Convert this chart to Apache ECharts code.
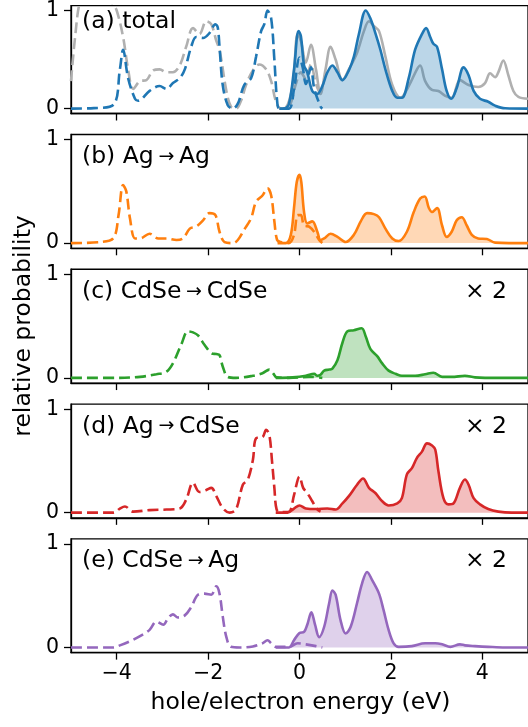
<!DOCTYPE html>
<html><head><meta charset="utf-8">
<script src="https://cdn.jsdelivr.net/npm/echarts@6/dist/echarts.min.js"></script>
<style>html,body{margin:0;padding:0;background:#fff}#c{width:528px;height:727px}</style>
</head><body><div id="c"></div>
<script>
// ---------------- data ----------------
const xTicks = [-4, -2, 0, 2, 4];
const yTicks = [0, 1];
const panelLabels = ['(a) total', '(b) Ag\u2009{a|\u2192}\u2009Ag', '(c) CdSe\u2009{a|\u2192}\u2009CdSe', '(d) Ag\u2009{a|\u2192}\u2009CdSe', '(e) CdSe\u2009{a|\u2192}\u2009Ag'];
const scaleLabels = ['', '', '\u00d7 2', '\u00d7 2', '\u00d7 2'];
const xName = 'hole/electron energy (eV)';
const yName = 'relative probability';

// (a) total – holes (dashed) and electrons (solid)
const totalHole = [[-5,0],[-4.5,0.005],[-4.07,0.04],[-3.93,0.40],[-3.86,0.60],[-3.75,0.31],[-3.6,0.10],[-3.53,0.08],[-3.28,0.18],[-3.06,0.23],[-2.91,0.20],[-2.77,0.26],[-2.62,0.31],[-2.51,0.40],[-2.37,0.63],[-2.26,0.73],[-2.11,0.72],[-1.97,0.77],[-1.84,0.86],[-1.79,0.83],[-1.75,0.63],[-1.68,0.24],[-1.57,0.035],[-1.46,0.0],[-1.35,0.05],[-1.21,0.24],[-1.06,0.31],[-0.95,0.53],[-0.84,0.79],[-0.77,0.86],[-0.70,1.0],[-0.62,0.92],[-0.55,0.50],[-0.49,0.08],[-0.44,0.0],[-0.23,0.0],[-0.12,0.2],[0.0,0.52],[0.07,0.42],[0.14,0.25],[0.25,0.42],[0.32,0.21],[0.46,0.02],[0.5,0.0]];
const totalElec = [[-0.44,0],[-0.33,0],[-0.23,0.05],[-0.12,0.40],[-0.02,0.79],[0.03,0.74],[0.10,0.44],[0.17,0.37],[0.28,0.18],[0.39,0.15],[0.50,0.23],[0.61,0.37],[0.72,0.44],[0.83,0.37],[0.94,0.29],[1.08,0.39],[1.19,0.53],[1.30,0.76],[1.45,1.0],[1.55,0.92],[1.66,0.77],[1.77,0.60],[1.88,0.40],[2.03,0.18],[2.14,0.11],[2.24,0.11],[2.39,0.31],[2.53,0.60],[2.68,0.76],[2.77,0.82],[2.86,0.73],[2.93,0.66],[3.01,0.63],[3.12,0.40],[3.22,0.18],[3.32,0.10],[3.44,0.21],[3.59,0.42],[3.70,0.34],[3.81,0.18],[3.95,0.10],[4.13,0.07],[4.28,0.03],[4.5,0.003],[5,0]];
// (a) reference (grey)
const refHole = [[-5,0.28],[-4.91,0.73],[-4.8,1.1],[-4.6,1.3],[-4.3,1.25],[-4.1,1.08],[-4.0,1.0],[-3.86,0.73],[-3.75,0.40],[-3.64,0.20],[-3.49,0.28],[-3.35,0.29],[-3.20,0.39],[-3.06,0.40],[-2.91,0.37],[-2.77,0.37],[-2.62,0.44],[-2.48,0.63],[-2.33,0.82],[-2.19,0.76],[-2.04,0.89],[-1.93,0.86],[-1.82,0.69],[-1.75,0.60],[-1.60,0.18],[-1.50,0.02],[-1.39,0.0],[-1.28,0.08],[-1.17,0.24],[-1.02,0.39],[-0.88,0.45],[-0.73,0.40],[-0.62,0.28],[-0.52,0.08],[-0.41,0.0],[-0.23,0.02],[-0.08,0.25],[0.03,0.37],[0.14,0.30],[0.25,0.45],[0.36,0.25],[0.5,0.1]];
const refElec = [[-0.44,0],[-0.30,0.01],[-0.15,0.24],[-0.04,0.76],[0.03,0.69],[0.14,0.47],[0.25,0.65],[0.36,0.40],[0.46,0.15],[0.57,0.40],[0.68,0.63],[0.79,0.50],[0.94,0.29],[1.08,0.40],[1.26,0.57],[1.41,0.79],[1.52,0.89],[1.63,0.84],[1.74,0.79],[1.88,0.53],[2.03,0.24],[2.21,0.11],[2.39,0.23],[2.57,0.40],[2.64,0.44],[2.75,0.28],[2.90,0.19],[3.04,0.18],[3.19,0.13],[3.33,0.11],[3.51,0.29],[3.70,0.24],[3.91,0.22],[4.06,0.26],[4.17,0.36],[4.28,0.32],[4.35,0.37],[4.46,0.49],[4.57,0.34],[4.68,0.18],[4.79,0.12],[5.0,0.10]];
// (b) Ag -> Ag
const agAgHole = [[-5,0],[-4.36,0.01],[-4.07,0.05],[-3.96,0.27],[-3.86,0.56],[-3.79,0.50],[-3.71,0.24],[-3.60,0.045],[-3.49,0.045],[-3.28,0.09],[-3.09,0.045],[-2.91,0.045],[-2.69,0.03],[-2.55,0.045],[-2.40,0.14],[-2.26,0.16],[-2.11,0.22],[-1.97,0.29],[-1.84,0.27],[-1.75,0.11],[-1.64,0.01],[-1.46,0],[-1.35,0.03],[-1.21,0.13],[-1.06,0.24],[-0.95,0.40],[-0.81,0.46],[-0.70,0.53],[-0.62,0.46],[-0.55,0.21],[-0.49,0.03],[-0.41,0.01],[-0.23,0],[-0.12,0.08],[-0.04,0.27],[0.03,0.27],[0.10,0.17],[0.21,0.16],[0.32,0.11],[0.43,0.03],[0.5,0]];
const agAgElec = [[-0.48,0],[-0.30,0],[-0.19,0.08],[-0.12,0.34],[-0.06,0.59],[0.0,0.66],[0.04,0.59],[0.10,0.30],[0.17,0.19],[0.28,0.21],[0.39,0.11],[0.46,0.03],[0.54,0.045],[0.68,0.09],[0.83,0.06],[1.01,0.01],[1.19,0.08],[1.34,0.21],[1.48,0.29],[1.63,0.28],[1.74,0.25],[1.88,0.14],[2.03,0.045],[2.17,0.02],[2.35,0.11],[2.50,0.30],[2.64,0.43],[2.74,0.45],[2.83,0.34],[2.90,0.30],[3.01,0.34],[3.12,0.17],[3.22,0.06],[3.33,0.11],[3.44,0.22],[3.55,0.25],[3.66,0.17],[3.77,0.08],[3.91,0.045],[4.10,0.04],[4.28,0.005],[5,0]];
// (c) CdSe -> CdSe (x2)
const cdseCdseHole = [[-5,0],[-4.0,0],[-3.49,0.01],[-3.13,0.035],[-2.91,0.06],[-2.77,0.14],[-2.59,0.32],[-2.44,0.45],[-2.33,0.44],[-2.22,0.41],[-2.08,0.32],[-1.93,0.24],[-1.82,0.23],[-1.75,0.22],[-1.68,0.11],[-1.57,0.01],[-1.39,0],[-1.02,0.02],[-0.81,0.045],[-0.66,0.08],[-0.57,0.04],[-0.50,0.005],[-0.23,0],[0.21,0.01],[0.5,0]];
const cdseCdseElec = [[-0.52,0],[-0.15,0.005],[0.14,0.02],[0.32,0.04],[0.39,0.02],[0.46,0.03],[0.54,0.07],[0.65,0.08],[0.72,0.09],[0.83,0.17],[0.94,0.34],[1.05,0.45],[1.19,0.46],[1.36,0.48],[1.45,0.40],[1.55,0.28],[1.70,0.21],[1.81,0.14],[1.95,0.07],[2.10,0.04],[2.24,0.02],[2.53,0.02],[2.75,0.035],[2.93,0.05],[3.12,0.01],[3.33,0.01],[3.62,0.02],[3.84,0.005],[4.35,0],[5,0]];
// (d) Ag -> CdSe (x2)
const agCdseHole = [[-5,0],[-4.07,0],[-3.93,0.04],[-3.82,0.06],[-3.64,0.01],[-3.28,0.025],[-2.91,0.03],[-2.62,0.04],[-2.48,0.125],[-2.33,0.29],[-2.19,0.20],[-2.04,0.22],[-1.93,0.24],[-1.82,0.16],[-1.68,0.045],[-1.53,0],[-1.39,0.03],[-1.24,0.27],[-1.13,0.32],[-1.02,0.51],[-0.95,0.72],[-0.81,0.73],[-0.73,0.80],[-0.66,0.75],[-0.60,0.49],[-0.55,0.24],[-0.50,0.03],[-0.41,0.005],[-0.23,0.01],[-0.12,0.17],[0.0,0.35],[0.08,0.24],[0.17,0.19],[0.28,0.11],[0.39,0.03],[0.46,0.01]];
const agCdseElec = [[-0.52,0],[-0.26,0],[-0.12,0.04],[0.0,0.07],[0.14,0.04],[0.36,0.035],[0.61,0.04],[0.79,0.03],[0.94,0.09],[1.08,0.16],[1.26,0.27],[1.39,0.33],[1.52,0.24],[1.66,0.19],[1.81,0.11],[1.95,0.07],[2.14,0.09],[2.24,0.14],[2.35,0.37],[2.46,0.43],[2.57,0.53],[2.68,0.59],[2.79,0.67],[2.90,0.65],[2.97,0.61],[3.04,0.40],[3.15,0.14],[3.26,0.08],[3.37,0.09],[3.51,0.24],[3.62,0.32],[3.70,0.27],[3.81,0.14],[3.95,0.08],[4.13,0.035],[4.35,0.01],[4.64,0],[5,0]];
// (e) CdSe -> Ag (x2)
const cdseAgHole = [[-5,0],[-4.07,0],[-3.93,0.02],[-3.71,0.06],[-3.49,0.11],[-3.28,0.17],[-3.13,0.25],[-2.98,0.22],[-2.88,0.28],[-2.77,0.32],[-2.66,0.29],[-2.51,0.31],[-2.37,0.39],[-2.22,0.51],[-2.08,0.52],[-1.93,0.51],[-1.82,0.59],[-1.75,0.52],[-1.68,0.30],[-1.60,0.10],[-1.50,0.006],[-1.31,0],[-1.02,0.01],[-0.81,0.04],[-0.70,0.07],[-0.62,0.04],[-0.52,0.006],[-0.23,0.006],[-0.04,0.04],[0.14,0.03],[0.36,0.013],[0.5,0]];
const cdseAgElec = [[-0.52,0],[-0.23,0],[-0.12,0.07],[0.0,0.14],[0.10,0.15],[0.17,0.22],[0.26,0.34],[0.34,0.22],[0.43,0.10],[0.54,0.20],[0.65,0.43],[0.72,0.55],[0.79,0.51],[0.90,0.26],[1.01,0.135],[1.12,0.20],[1.26,0.43],[1.37,0.62],[1.48,0.73],[1.59,0.65],[1.74,0.52],[1.84,0.36],[1.95,0.17],[2.06,0.04],[2.17,0.006],[2.46,0.013],[2.75,0.04],[2.97,0.04],[3.12,0.03],[3.30,0.006],[3.51,0.03],[3.62,0.02],[3.84,0.013],[4.13,0.006],[4.50,0],[5,0]];

const holes = [totalHole, agAgHole, cdseCdseHole, agCdseHole, cdseAgHole];
const elecs = [totalElec, agAgElec, cdseCdseElec, agCdseElec, cdseAgElec];

// ---------------- styling / layout ----------------
const colors = ['#1f77b4', '#ff7f0e', '#2ca02c', '#d62728', '#9467bd'];
const grey = '#b0b0b0';
const FONT = 'DejaVu Sans';
const tickFont = 20.5;
const textFont = 23.5;
const gLeft = 71, gWidth = 459, gHeight = 113.8, gStep = 134.78, gTop0 = -0.3;
const LW = 2.6;
const DASH = [11, 5];

const grids = [], xAxes = [], yAxes = [], series = [], graphics = [];
const minus = v => (v < 0 ? '\u2212' + Math.abs(v) : String(v));

for (let i = 0; i < 5; i++) {
  const top = gTop0 + gStep * i;
  grids.push({ left: gLeft, width: gWidth, top: top, height: gHeight, show: true,
    borderColor: '#000', borderWidth: 1.3, backgroundColor: 'transparent' });
  const last = i === 4;
  xAxes.push({ type: 'value', gridIndex: i, min: -5, max: 5,
    axisLine: { show: true, onZero: false, lineStyle: { color: '#000', width: 1.3 } },
    axisTick: { show: true, length: 7, customValues: xTicks, lineStyle: { color: '#000', width: 1.3 } },
    axisLabel: { show: last, customValues: xTicks, formatter: minus, color: '#000',
      fontFamily: FONT, fontSize: tickFont, margin: 11 },
    splitLine: { show: false } });
  yAxes.push({ type: 'value', gridIndex: i, min: -0.05, max: 1.05,
    axisLine: { show: true, onZero: false, lineStyle: { color: '#000', width: 1.3 } },
    axisTick: { show: true, length: 7, customValues: yTicks, lineStyle: { color: '#000', width: 1.3 } },
    axisLabel: { show: true, customValues: yTicks, color: '#000', fontFamily: FONT, fontSize: tickFont, margin: 12 },
    splitLine: { show: false } });

  if (i === 0) {
    series.push({ type: 'line', xAxisIndex: 0, yAxisIndex: 0, data: refHole, smooth: 0.35, symbol: 'none',
      clip: true, lineStyle: { color: grey, width: LW, type: DASH }, z: 2 });
    series.push({ type: 'line', xAxisIndex: 0, yAxisIndex: 0, data: refElec, smooth: 0.35, symbol: 'none',
      clip: true, lineStyle: { color: grey, width: LW }, z: 2 });
  }
  series.push({ type: 'line', xAxisIndex: i, yAxisIndex: i, data: holes[i], smooth: 0.35, symbol: 'none',
    clip: true, lineStyle: { color: colors[i], width: LW, type: DASH }, z: 3 });
  series.push({ type: 'line', xAxisIndex: i, yAxisIndex: i, data: elecs[i], smooth: 0.35, symbol: 'none',
    clip: true, lineStyle: { color: colors[i], width: LW },
    areaStyle: { color: colors[i], opacity: 0.3, origin: 0 }, z: 3 });

  graphics.push({ type: 'text', left: 82, top: top + 24 - textFont * 0.58,
    style: { text: panelLabels[i], fill: '#000', fontFamily: FONT, fontSize: textFont,
      rich: { a: { fontFamily: FONT, fontSize: 19, fill: '#000' } } } });
  if (scaleLabels[i]) {
    graphics.push({ type: 'text', right: 21, top: top + 24 - textFont * 0.58,
      style: { text: scaleLabels[i], fill: '#000', fontFamily: FONT, fontSize: textFont } });
  }
}

graphics.push({ type: 'text', x: 24, y: 326, rotation: Math.PI / 2,
  style: { text: yName, fill: '#000', fontFamily: FONT, fontSize: textFont, align: 'center', verticalAlign: 'middle' } });
graphics.push({ type: 'text', x: 300.5, y: 703, 
  style: { text: xName, fill: '#000', fontFamily: FONT, fontSize: textFont, align: 'center', verticalAlign: 'middle' } });

const chart = echarts.init(document.getElementById('c'), null, { renderer: 'canvas' });
chart.setOption({
  animation: false,
  backgroundColor: '#fff',
  grid: grids, xAxis: xAxes, yAxis: yAxes, series: series, graphic: graphics
});
</script></body></html>
